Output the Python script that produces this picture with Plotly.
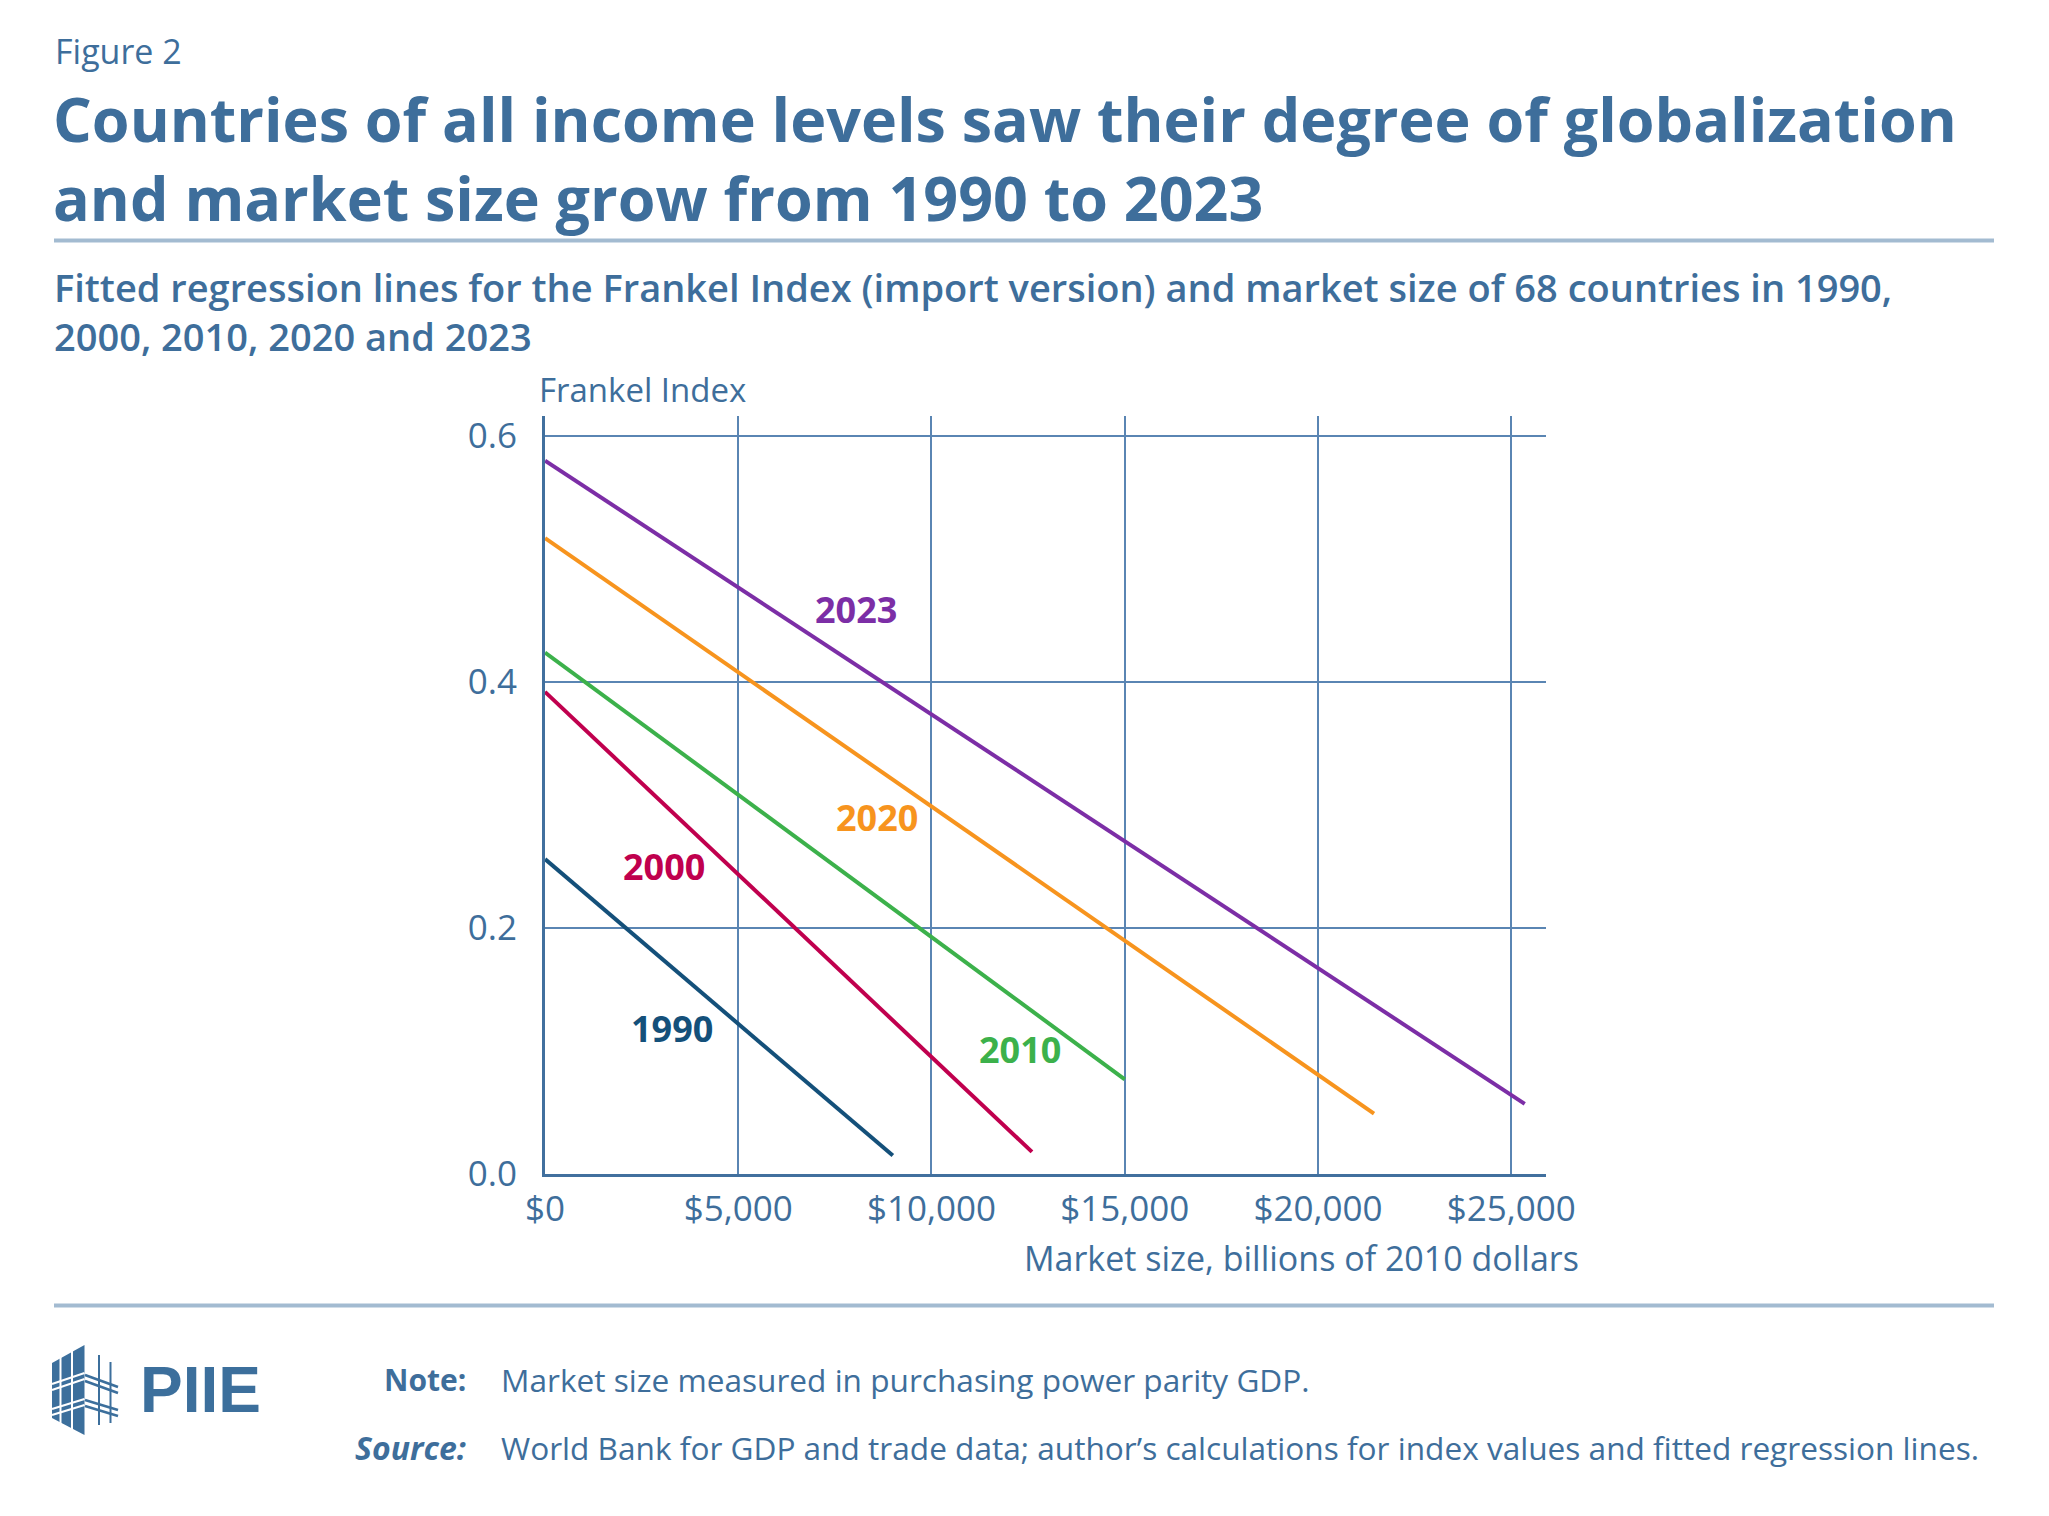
import plotly.graph_objects as go

# ---------------- data ----------------
years = ["1990", "2000", "2010", "2020", "2023"]
x_start = [0, 0, 0, 0, 0]
x_end = [9000, 12600, 15000, 21450, 25350]
y_start = [0.256, 0.392, 0.424, 0.517, 0.580]
y_end = [0.015, 0.018, 0.077, 0.049, 0.057]
line_colors = ["#14507a", "#c0004e", "#3cb14b", "#f7941e", "#7c2ea6"]

# label anchor positions (data coords)
label_x = [3280, 3080, 12300, 8600, 8050]
label_y = [0.118, 0.250, 0.101, 0.290, 0.459]

x_ticks = [0, 5000, 10000, 15000, 20000, 25000]
x_ticklabels = ["$0", "$5,000", "$10,000", "$15,000", "$20,000", "$25,000"]
y_ticks = [0.0, 0.2, 0.4, 0.6]
y_ticklabels = ["0.0", "0.2", "0.4", "0.6"]

# ---------------- geometry ----------------
W, H = 2049, 1516
L, R, T, B = 545, 1546, 416, 1174  # plot area pixels

def P(px, py):
    return (px - L) / (R - L), (B - py) / (B - T)

TXT = "#3e6e9b"
FONT = "Open Sans"

fig = go.Figure()
for i, yr in enumerate(years):
    fig.add_trace(go.Scatter(
        x=[x_start[i], x_end[i]], y=[y_start[i], y_end[i]],
        mode="lines", line=dict(color=line_colors[i], width=4),
        name=yr, showlegend=False, hoverinfo="skip"))

annotations = []
for i, yr in enumerate(years):
    annotations.append(dict(x=label_x[i], y=label_y[i], xref="x", yref="y",
                            text="<b>%s</b>" % yr, showarrow=False,
                            font=dict(family=FONT, size=36, color=line_colors[i])))

def ann(px, py, text, size, color=TXT, xanchor="left", yanchor="middle", family=FONT, weight=None):
    x, y = P(px, py)
    f = dict(family=family, size=size, color=color)
    if weight is not None:
        f["weight"] = weight
    annotations.append(dict(x=x, y=y, xref="paper", yref="paper", text=text,
                            showarrow=False, xanchor=xanchor, yanchor=yanchor,
                            align="left", borderpad=0, font=f))

ann(54, 51, "Figure 2", 34)
ann(52, 158, "<b>Countries of all income levels saw their degree of globalization<br>and market size grow from 1990 to 2023</b>", 61)
ann(53, 311, "Fitted regression lines for the Frankel Index (import version) and market size of 68 countries in 1990,<br>2000, 2010, 2020 and 2023", 38, weight=600)
ann(538, 389, "Frankel Index", 33)
ann(1580, 1258, "Market size, billions of 2010 dollars", 34, xanchor="right")
ann(467, 1379, "<b>Note:</b>", 30, xanchor="right")
ann(467, 1447, "<b><i>Source:</i></b>", 32, xanchor="right")
ann(500, 1379, "Market size measured in purchasing power parity GDP.", 31.6)
ann(500, 1447, "World Bank for GDP and trade data; author’s calculations for index values and fitted regression lines.", 31.6)
ann(139, 1390, "<b>PIIE</b>", 64, color="#3c6f9c", family="Liberation Sans")

shapes = []
def rule(py):
    x0, y0 = P(54, py)
    x1, _ = P(1994, py)
    shapes.append(dict(type="line", xref="paper", yref="paper", x0=x0, x1=x1, y0=y0, y1=y0,
                       line=dict(color="#a3bbd1", width=4)))
rule(240.5)
rule(1305.5)

# PIIE logo building
def seg(a, b, color, width):
    x0, y0 = P(*a)
    x1, y1 = P(*b)
    shapes.append(dict(type="line", xref="paper", yref="paper", x0=x0, y0=y0, x1=x1, y1=y1,
                       line=dict(color=color, width=width)))

logo = "#3c6f9c"
pts = [(52, 1363), (84.5, 1345), (84.5, 1435), (52, 1418)]
pp = [P(*p) for p in pts]
path = "M %f %f L %f %f L %f %f L %f %f Z" % (pp[0][0], pp[0][1], pp[1][0], pp[1][1], pp[2][0], pp[2][1], pp[3][0], pp[3][1])
shapes.append(dict(type="path", xref="paper", yref="paper", path=path, fillcolor=logo, line=dict(width=0)))
# white gaps
seg((60.5, 1355), (60.5, 1425), "white", 2)
seg((72, 1350), (72, 1430), "white", 2)
seg((52, 1384), (84.5, 1373), "white", 2)
seg((52, 1390), (84.5, 1379), "white", 2)
seg((52, 1409), (84.5, 1399), "white", 2)
seg((52, 1415), (84.5, 1405), "white", 2)
# right lattice
seg((99, 1355), (99, 1425), logo, 2)
seg((110.5, 1362), (110.5, 1423), logo, 2)
seg((85, 1375), (118, 1387), logo, 2.5)
seg((85, 1381), (118, 1393), logo, 2.5)
seg((85, 1400), (118, 1410), logo, 2.5)
seg((85, 1406), (118, 1416), logo, 2.5)

GRID = "#5a85b3"
fig.update_layout(
    width=W, height=H, autosize=False,
    margin=dict(l=L, r=W - R, t=T, b=H - B, pad=0),
    paper_bgcolor="white", plot_bgcolor="white",
    annotations=annotations, shapes=shapes,
    xaxis=dict(range=[0, 25900], tickvals=x_ticks, ticktext=x_ticklabels,
               showgrid=True, gridcolor=GRID, gridwidth=1.5,
               zeroline=False, showline=True, linecolor="#41709e", linewidth=3,
               ticks="", ticklabelstandoff=2,
               tickfont=dict(family=FONT, size=35, color=TXT), fixedrange=True),
    yaxis=dict(range=[0, 0.6163], tickvals=y_ticks, ticktext=y_ticklabels,
               showgrid=True, gridcolor=GRID, gridwidth=1.5,
               zeroline=False, showline=True, linecolor="#41709e", linewidth=3,
               ticks="", ticklabelstandoff=18,
               tickfont=dict(family=FONT, size=35, color=TXT), fixedrange=True),
)

fig.write_html("out.html")
